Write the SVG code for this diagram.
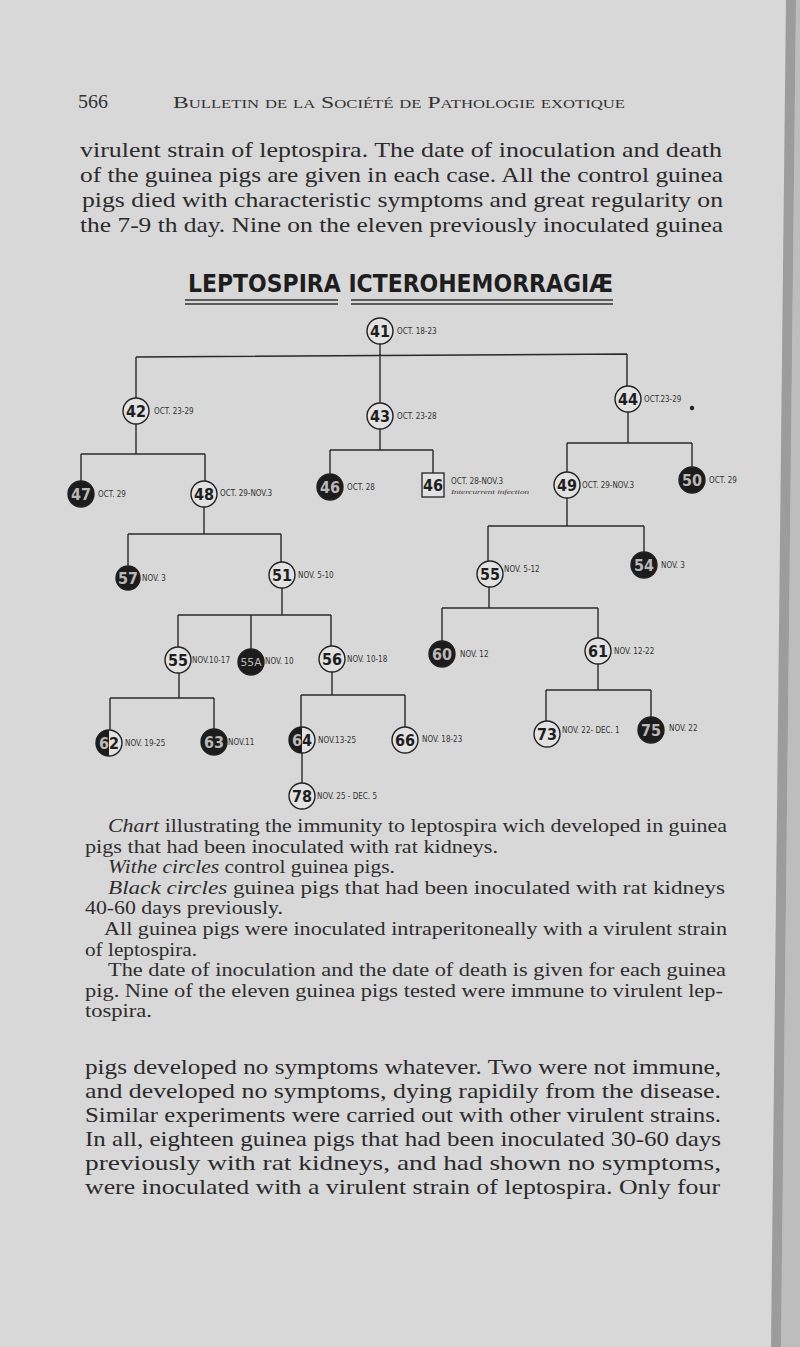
<svg xmlns="http://www.w3.org/2000/svg" width="800" height="1347" viewBox="0 0 800 1347">
<style>
.body{font-family:"Liberation Serif",serif;font-size:21px;fill:#2b2b2b}
.cap{font-family:"Liberation Serif",serif;font-size:18.5px;fill:#2e2e2e}
.it{font-style:italic}
.hdr{font-family:"Liberation Serif",serif;fill:#333}
.title{font-family:"DejaVu Sans Condensed","DejaVu Sans",sans-serif;font-stretch:condensed;font-weight:bold;font-size:24px;fill:#1e1e1e}
.num{font-family:"DejaVu Sans Condensed","DejaVu Sans",sans-serif;font-stretch:condensed;font-weight:bold;font-size:16px;text-anchor:middle;fill:#1e1e1e}
.numB{fill:#b8b8b8}
.small{font-size:11px;font-weight:normal}
.lbl{font-family:"DejaVu Sans Condensed","DejaVu Sans",sans-serif;font-stretch:condensed;font-size:8px;fill:#333}
.w{fill:#e2e2e2;stroke:#222;stroke-width:1.4}
.b{fill:#1c1c1c;stroke:#222;stroke-width:1.4}
.conn path{fill:none;stroke:#2a2a2a;stroke-width:1.4}
.ul{stroke:#333;stroke-width:1.3}
</style>
<defs>
<clipPath id="lh62"><rect x="90" y="725" width="19" height="36"/></clipPath>
<clipPath id="lh64"><rect x="283" y="722" width="19" height="36"/></clipPath>
</defs>
<rect x="0" y="0" width="800" height="1347" fill="#d8d8d8"/>
<polygon points="796,0 800,0 800,1347 781,1347" fill="#bdbdbd"/>
<polygon points="786,0 796,0 781,1347 771,1347" fill="#9c9c9c"/>

<g id="header">
<text class="hdr" x="78" y="108" font-size="18" textLength="30" lengthAdjust="spacingAndGlyphs">566</text>
<text class="hdr" x="173" y="108" font-size="17" font-variant="small-caps" textLength="452" lengthAdjust="spacingAndGlyphs">Bulletin de la Société de Pathologie exotique</text>
</g>

<g id="top-paragraph">
<text class="body" x="80" y="157" textLength="642" lengthAdjust="spacingAndGlyphs">virulent strain of leptospira. The date of inoculation and death</text>
<text class="body" x="80" y="182" textLength="643" lengthAdjust="spacingAndGlyphs">of the guinea pigs are given in each case. All the control guinea</text>
<text class="body" x="82" y="207" textLength="641" lengthAdjust="spacingAndGlyphs">pigs died with characteristic symptoms and great regularity on</text>
<text class="body" x="80" y="232" textLength="643" lengthAdjust="spacingAndGlyphs">the 7-9 th day. Nine on the eleven previously inoculated guinea</text>
</g>

<g id="title">
<text class="title" x="188" y="292" textLength="425" lengthAdjust="spacingAndGlyphs">LEPTOSPIRA ICTEROHEMORRAGIÆ</text>
<line class="ul" x1="185" y1="300" x2="338" y2="300"/>
<line class="ul" x1="185" y1="304" x2="338" y2="304"/>
<line class="ul" x1="351" y1="300" x2="613" y2="300"/>
<line class="ul" x1="351" y1="304" x2="613" y2="304"/>
</g>

<g id="connectors" class="conn">
<path d="M380 344V356M136 357L627 354M136 357V398M380 356V403M627 354V386"/>
<path d="M136 424V454M81 454H205M81 454V481M205 454V481"/>
<path d="M380 429V450M330 450H433M330 450V474M433 450V473"/>
<path d="M628 412V443M567 443H692M567 443V472M692 443V467"/>
<path d="M204 507V534M128 534H281M128 534V566M281 534V562"/>
<path d="M282 588V615M178 615H331M178 615V647M251 615V650M331 615V646"/>
<path d="M179 673V698M110 698H214M110 698V730M214 698V730"/>
<path d="M332 672V695M301 695H405M301 695V727M405 695V727"/>
<path d="M302 753V783"/>
<path d="M567 498V526M488 526H644M488 526V561M644 526V553"/>
<path d="M489 587V608M442 608H598M442 608V641M598 608V638"/>
<path d="M598 664V690M546 690H651M546 690V721M651 690V717"/>
</g>

<g id="n41"><circle class="w" cx="380" cy="331" r="13"/><text class="num" x="380" y="337">41</text><text class="lbl" x="397" y="334">OCT. 18-23</text></g>
<g id="n42"><circle class="w" cx="136" cy="411" r="13"/><text class="num" x="136" y="417">42</text><text class="lbl" x="154" y="414">OCT. 23-29</text></g>
<g id="n43"><circle class="w" cx="380" cy="416" r="13"/><text class="num" x="380" y="422">43</text><text class="lbl" x="397" y="419">OCT. 23-28</text></g>
<g id="n44"><circle class="w" cx="628" cy="399" r="13"/><text class="num" x="628" y="405">44</text><text class="lbl" x="644" y="402">OCT.23-29</text><circle cx="692" cy="408" r="2.2" fill="#222"/></g>
<g id="n47"><circle class="b" cx="81" cy="494" r="13"/><text class="num numB" x="81" y="500">47</text><text class="lbl" x="98" y="497">OCT. 29</text></g>
<g id="n48"><circle class="w" cx="204" cy="494" r="13"/><text class="num" x="204" y="500">48</text><text class="lbl" x="220" y="496">OCT. 29-NOV.3</text></g>
<g id="n46a"><circle class="b" cx="330" cy="487" r="13"/><text class="num numB" x="330" y="493">46</text><text class="lbl" x="347" y="490">OCT. 28</text></g>
<g id="n46b"><rect x="422" y="473" width="22" height="24" fill="#e2e2e2" stroke="#222" stroke-width="1.3"/><text class="num" x="433" y="491">46</text><text class="lbl" x="451" y="484">OCT. 28-NOV.3</text><text x="451" y="494" font-family="Liberation Serif,serif" font-style="italic" font-size="7" fill="#333" textLength="78" lengthAdjust="spacingAndGlyphs">Intercurrent infection</text></g>
<g id="n49"><circle class="w" cx="567" cy="485" r="13"/><text class="num" x="567" y="491">49</text><text class="lbl" x="582" y="488">OCT. 29-NOV.3</text></g>
<g id="n50"><circle class="b" cx="692" cy="480" r="13"/><text class="num numB" x="692" y="486">50</text><text class="lbl" x="709" y="483">OCT. 29</text></g>
<g id="n57"><circle class="b" cx="128" cy="578" r="12"/><text class="num numB" x="128" y="584">57</text><text class="lbl" x="142" y="581">NOV. 3</text></g>
<g id="n51"><circle class="w" cx="282" cy="575" r="13"/><text class="num" x="282" y="581">51</text><text class="lbl" x="298" y="578">NOV. 5-10</text></g>
<g id="n55l"><circle class="w" cx="178" cy="660" r="13"/><text class="num" x="178" y="666">55</text><text class="lbl" x="192" y="663">NOV.10-17</text></g>
<g id="n55A"><circle class="b" cx="251" cy="662" r="13"/><text class="num numB small" x="251" y="666" textLength="21" lengthAdjust="spacingAndGlyphs">55A</text><text class="lbl" x="265" y="664">NOV. 10</text></g>
<g id="n56"><circle class="w" cx="332" cy="659" r="13"/><text class="num" x="332" y="665">56</text><text class="lbl" x="347" y="662">NOV. 10-18</text></g>
<g id="n62"><circle class="w" cx="109" cy="743" r="13"/><path d="M109 730A13 13 0 0 0 109 756Z" fill="#1c1c1c"/><text class="num" x="109" y="749">62</text><text class="num numB" x="109" y="749" clip-path="url(#lh62)">62</text><text class="lbl" x="125" y="746">NOV. 19-25</text></g>
<g id="n63"><circle class="b" cx="214" cy="742" r="13"/><text class="num numB" x="214" y="748">63</text><text class="lbl" x="228" y="745">NOV.11</text></g>
<g id="n64"><circle class="w" cx="302" cy="740" r="13"/><path d="M302 727A13 13 0 0 0 302 753Z" fill="#1c1c1c"/><text class="num" x="302" y="746">64</text><text class="num numB" x="302" y="746" clip-path="url(#lh64)">64</text><text class="lbl" x="318" y="743">NOV.13-25</text></g>
<g id="n66"><circle class="w" cx="405" cy="740" r="13"/><text class="num" x="405" y="746">66</text><text class="lbl" x="422" y="742">NOV. 18-23</text></g>
<g id="n78"><circle class="w" cx="302" cy="796" r="13"/><text class="num" x="302" y="802">78</text><text class="lbl" x="317" y="799">NOV. 25 - DEC. 5</text></g>
<g id="n55r"><circle class="w" cx="490" cy="574" r="13"/><text class="num" x="490" y="580">55</text><text class="lbl" x="504" y="572">NOV. 5-12</text></g>
<g id="n54"><circle class="b" cx="644" cy="565" r="13"/><text class="num numB" x="644" y="571">54</text><text class="lbl" x="661" y="568">NOV. 3</text></g>
<g id="n60"><circle class="b" cx="442" cy="654" r="13"/><text class="num numB" x="442" y="660">60</text><text class="lbl" x="460" y="657">NOV. 12</text></g>
<g id="n61"><circle class="w" cx="598" cy="651" r="13"/><text class="num" x="598" y="657">61</text><text class="lbl" x="614" y="654">NOV. 12-22</text></g>
<g id="n73"><circle class="w" cx="547" cy="734" r="13"/><text class="num" x="547" y="740">73</text><text class="lbl" x="562" y="733">NOV. 22- DEC. 1</text></g>
<g id="n75"><circle class="b" cx="651" cy="730" r="13"/><text class="num numB" x="651" y="736">75</text><text class="lbl" x="669" y="731">NOV. 22</text></g>

<g id="caption">
<text class="cap" x="108" y="832" textLength="619" lengthAdjust="spacingAndGlyphs"><tspan class="it">Chart</tspan> illustrating the immunity to leptospira wich developed in guinea</text>
<text class="cap" x="85" y="852.6" textLength="413" lengthAdjust="spacingAndGlyphs">pigs that had been inoculated with rat kidneys.</text>
<text class="cap" x="108" y="873.2" textLength="287" lengthAdjust="spacingAndGlyphs"><tspan class="it">Withe circles</tspan> control guinea pigs.</text>
<text class="cap" x="108" y="893.8" textLength="617" lengthAdjust="spacingAndGlyphs"><tspan class="it">Black circles</tspan> guinea pigs that had been inoculated with rat kidneys</text>
<text class="cap" x="85" y="914.4" textLength="198" lengthAdjust="spacingAndGlyphs">40-60 days previously.</text>
<text class="cap" x="104" y="935" textLength="623" lengthAdjust="spacingAndGlyphs">All guinea pigs were inoculated intraperitoneally with a virulent strain</text>
<text class="cap" x="85" y="955.6" textLength="112" lengthAdjust="spacingAndGlyphs">of leptospira.</text>
<text class="cap" x="108" y="976.2" textLength="618" lengthAdjust="spacingAndGlyphs">The date of inoculation and the date of death is given for each guinea</text>
<text class="cap" x="85" y="996.8" textLength="638" lengthAdjust="spacingAndGlyphs">pig. Nine of the eleven guinea pigs tested were immune to virulent lep-</text>
<text class="cap" x="85" y="1017.4" textLength="67" lengthAdjust="spacingAndGlyphs">tospira.</text>
</g>

<g id="bottom-paragraph">
<text class="body" x="85" y="1074" textLength="636" lengthAdjust="spacingAndGlyphs">pigs developed no symptoms whatever. Two were not immune,</text>
<text class="body" x="85" y="1098" textLength="636" lengthAdjust="spacingAndGlyphs">and developed no symptoms, dying rapidily from the disease.</text>
<text class="body" x="85" y="1122" textLength="636" lengthAdjust="spacingAndGlyphs">Similar experiments were carried out with other virulent strains.</text>
<text class="body" x="85" y="1146" textLength="636" lengthAdjust="spacingAndGlyphs">In all, eighteen guinea pigs that had been inoculated 30-60 days</text>
<text class="body" x="85" y="1170" textLength="636" lengthAdjust="spacingAndGlyphs">previously with rat kidneys, and had shown no symptoms,</text>
<text class="body" x="85" y="1194" textLength="635" lengthAdjust="spacingAndGlyphs">were inoculated with a virulent strain of leptospira. Only four</text>
</g>
</svg>
